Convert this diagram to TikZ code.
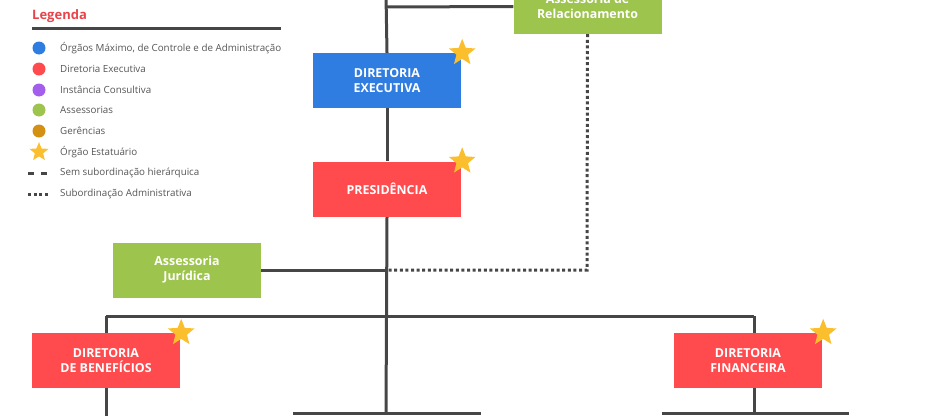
\documentclass[tikz,border=0pt]{standalone}
\usepackage{fontspec}
\setmainfont{Open Sans}
\usetikzlibrary{shapes.geometric,backgrounds}
\definecolor{cblue}{HTML}{2F7DE1}
\definecolor{cred}{HTML}{FF4B4E}
\definecolor{cgreen}{HTML}{9DC44D}
\definecolor{cpurple}{HTML}{A45EEC}
\definecolor{cgold}{HTML}{D39013}
\definecolor{cstar}{HTML}{FBBE2C}
\definecolor{cline}{HTML}{464646}
\definecolor{ctext}{HTML}{555555}
\definecolor{clegend}{HTML}{E8434A}
\tikzset{
  box/.style={rectangle, minimum width=148pt, minimum height=55pt, inner sep=0pt, text=white,
    font=\fontsize{12.4}{15}\selectfont\bfseries, align=center},
  conn/.style={draw=cline, line width=3pt},
  dotconn/.style={draw=cline, line width=3pt, dash pattern=on 3pt off 2.6pt},
  starmark/.style={star, star points=5, star point ratio=2.3, fill=cstar, inner sep=0pt, minimum size=28pt},
  legdot/.style={circle, inner sep=0pt, minimum size=13pt},
  legtext/.style={anchor=west, text=ctext, font=\fontsize{9.8}{11}\selectfont, inner sep=0pt}
}
\begin{document}
\begin{tikzpicture}[x=1pt,y=-1pt]
\useasboundingbox (0,0) rectangle (950,415);
\clip (0,0) rectangle (950,415);
% coordinates
\coordinate (top) at (386,-5);
\coordinate (bot) at (386,413);
\coordinate (jA) at (386,7);
\coordinate (jB) at (386,270);
\coordinate (dcorner) at (587,270);
\coordinate (hL) at (106,316);
\coordinate (hR) at (754,316);
\coordinate (dbBot) at (106,420);
\coordinate (dfBot) at (754,413);
\coordinate (b1L) at (293,413);
\coordinate (b1R) at (481,413);
\coordinate (b2L) at (662,413);
\coordinate (b2R) at (849,413);
% boxes
\node[box, fill=cgreen] (ar) at (587.5,6.5) {Assessoria de\\Relacionamento};
\node[box, fill=cblue] (de) at (387,80.5) {DIRETORIA\\EXECUTIVA};
\node[box, fill=cred] (pr) at (387,189) {PRESIDÊNCIA};
\node[box, fill=cgreen] (aj) at (187,270) {Assessoria\\Jurídica};
\node[box, fill=cred] (db) at (106,360.5) {DIRETORIA\\DE BENEFÍCIOS};
\node[box, fill=cred] (df) at (748,360.5) {DIRETORIA\\FINANCEIRA};
% connectors (behind boxes)
\begin{pgfonlayer}{background}
\path[conn] (top) -- (de.north);
\path[conn] (de.south) -- (pr.north);
\path[conn] (pr.south) -- (bot);
\path[conn] (jA) -- (ar.west);
\path[conn] (aj.east) -- (jB);
\path[dotconn] (ar.south) -- (dcorner) -- (jB);
\path[conn] (hL) -- (hR);
\path[conn] (hL) -- (db.north);
\path[conn] (hR) -- (hR |- df.north);
\path[conn] (db.south) -- (dbBot);
\path[conn] (hR |- df.south) -- (dfBot);
\path[conn] (b1L) -- (b1R);
\path[conn] (b2L) -- (b2R);
\end{pgfonlayer}
% stars
\node[starmark] (s1) at ([xshift=1pt]de.north east) {};
\node[starmark] (s2) at ([xshift=1pt]pr.north east) {};
\node[starmark] (s3) at ([xshift=1pt]db.north east) {};
\node[starmark] (s4) at ([xshift=1pt]df.north east) {};
% legend
\node[anchor=west, inner sep=0pt, text=clegend, font=\fontsize{13}{15}\selectfont\bfseries] (lt) at (32,16) {Legenda};
\coordinate (ulL) at (32,28.5);
\coordinate (ulR) at (281,28.5);
\path[conn, line width=2.8pt] (ulL) -- (ulR);
\node[legdot, fill=cblue] (l1) at (39,48) {};
\node[legdot, fill=cred] (l2) at (39,69) {};
\node[legdot, fill=cpurple] (l3) at (39,90) {};
\node[legdot, fill=cgreen] (l4) at (39,110) {};
\node[legdot, fill=cgold] (l5) at (39,131) {};
\node[starmark, minimum size=20pt] (l6) at (39,152) {};
\coordinate (l7a) at (28,173);
\coordinate (l7b) at (47,173);
\path[draw=cline, line width=3pt, dash pattern=on 6pt off 7pt] (l7a) -- (l7b);
\coordinate (l8a) at (28,194);
\coordinate (l8b) at (49,194);
\path[draw=cline, line width=3pt, dash pattern=on 3pt off 2.7pt] (l8a) -- (l8b);
\node[legtext] at (60,48) {Órgãos Máximo, de Controle e de Administração};
\node[legtext] at (60,69) {Diretoria Executiva};
\node[legtext] at (60,90) {Instância Consultiva};
\node[legtext] at (60,110) {Assessorias};
\node[legtext] at (60,131) {Gerências};
\node[legtext] at (60,152) {Órgão Estatuário};
\node[legtext] at (60,173) {Sem subordinação hierárquica};
\node[legtext] at (60,194) {Subordinação Administrativa};
\end{tikzpicture}
\end{document}
